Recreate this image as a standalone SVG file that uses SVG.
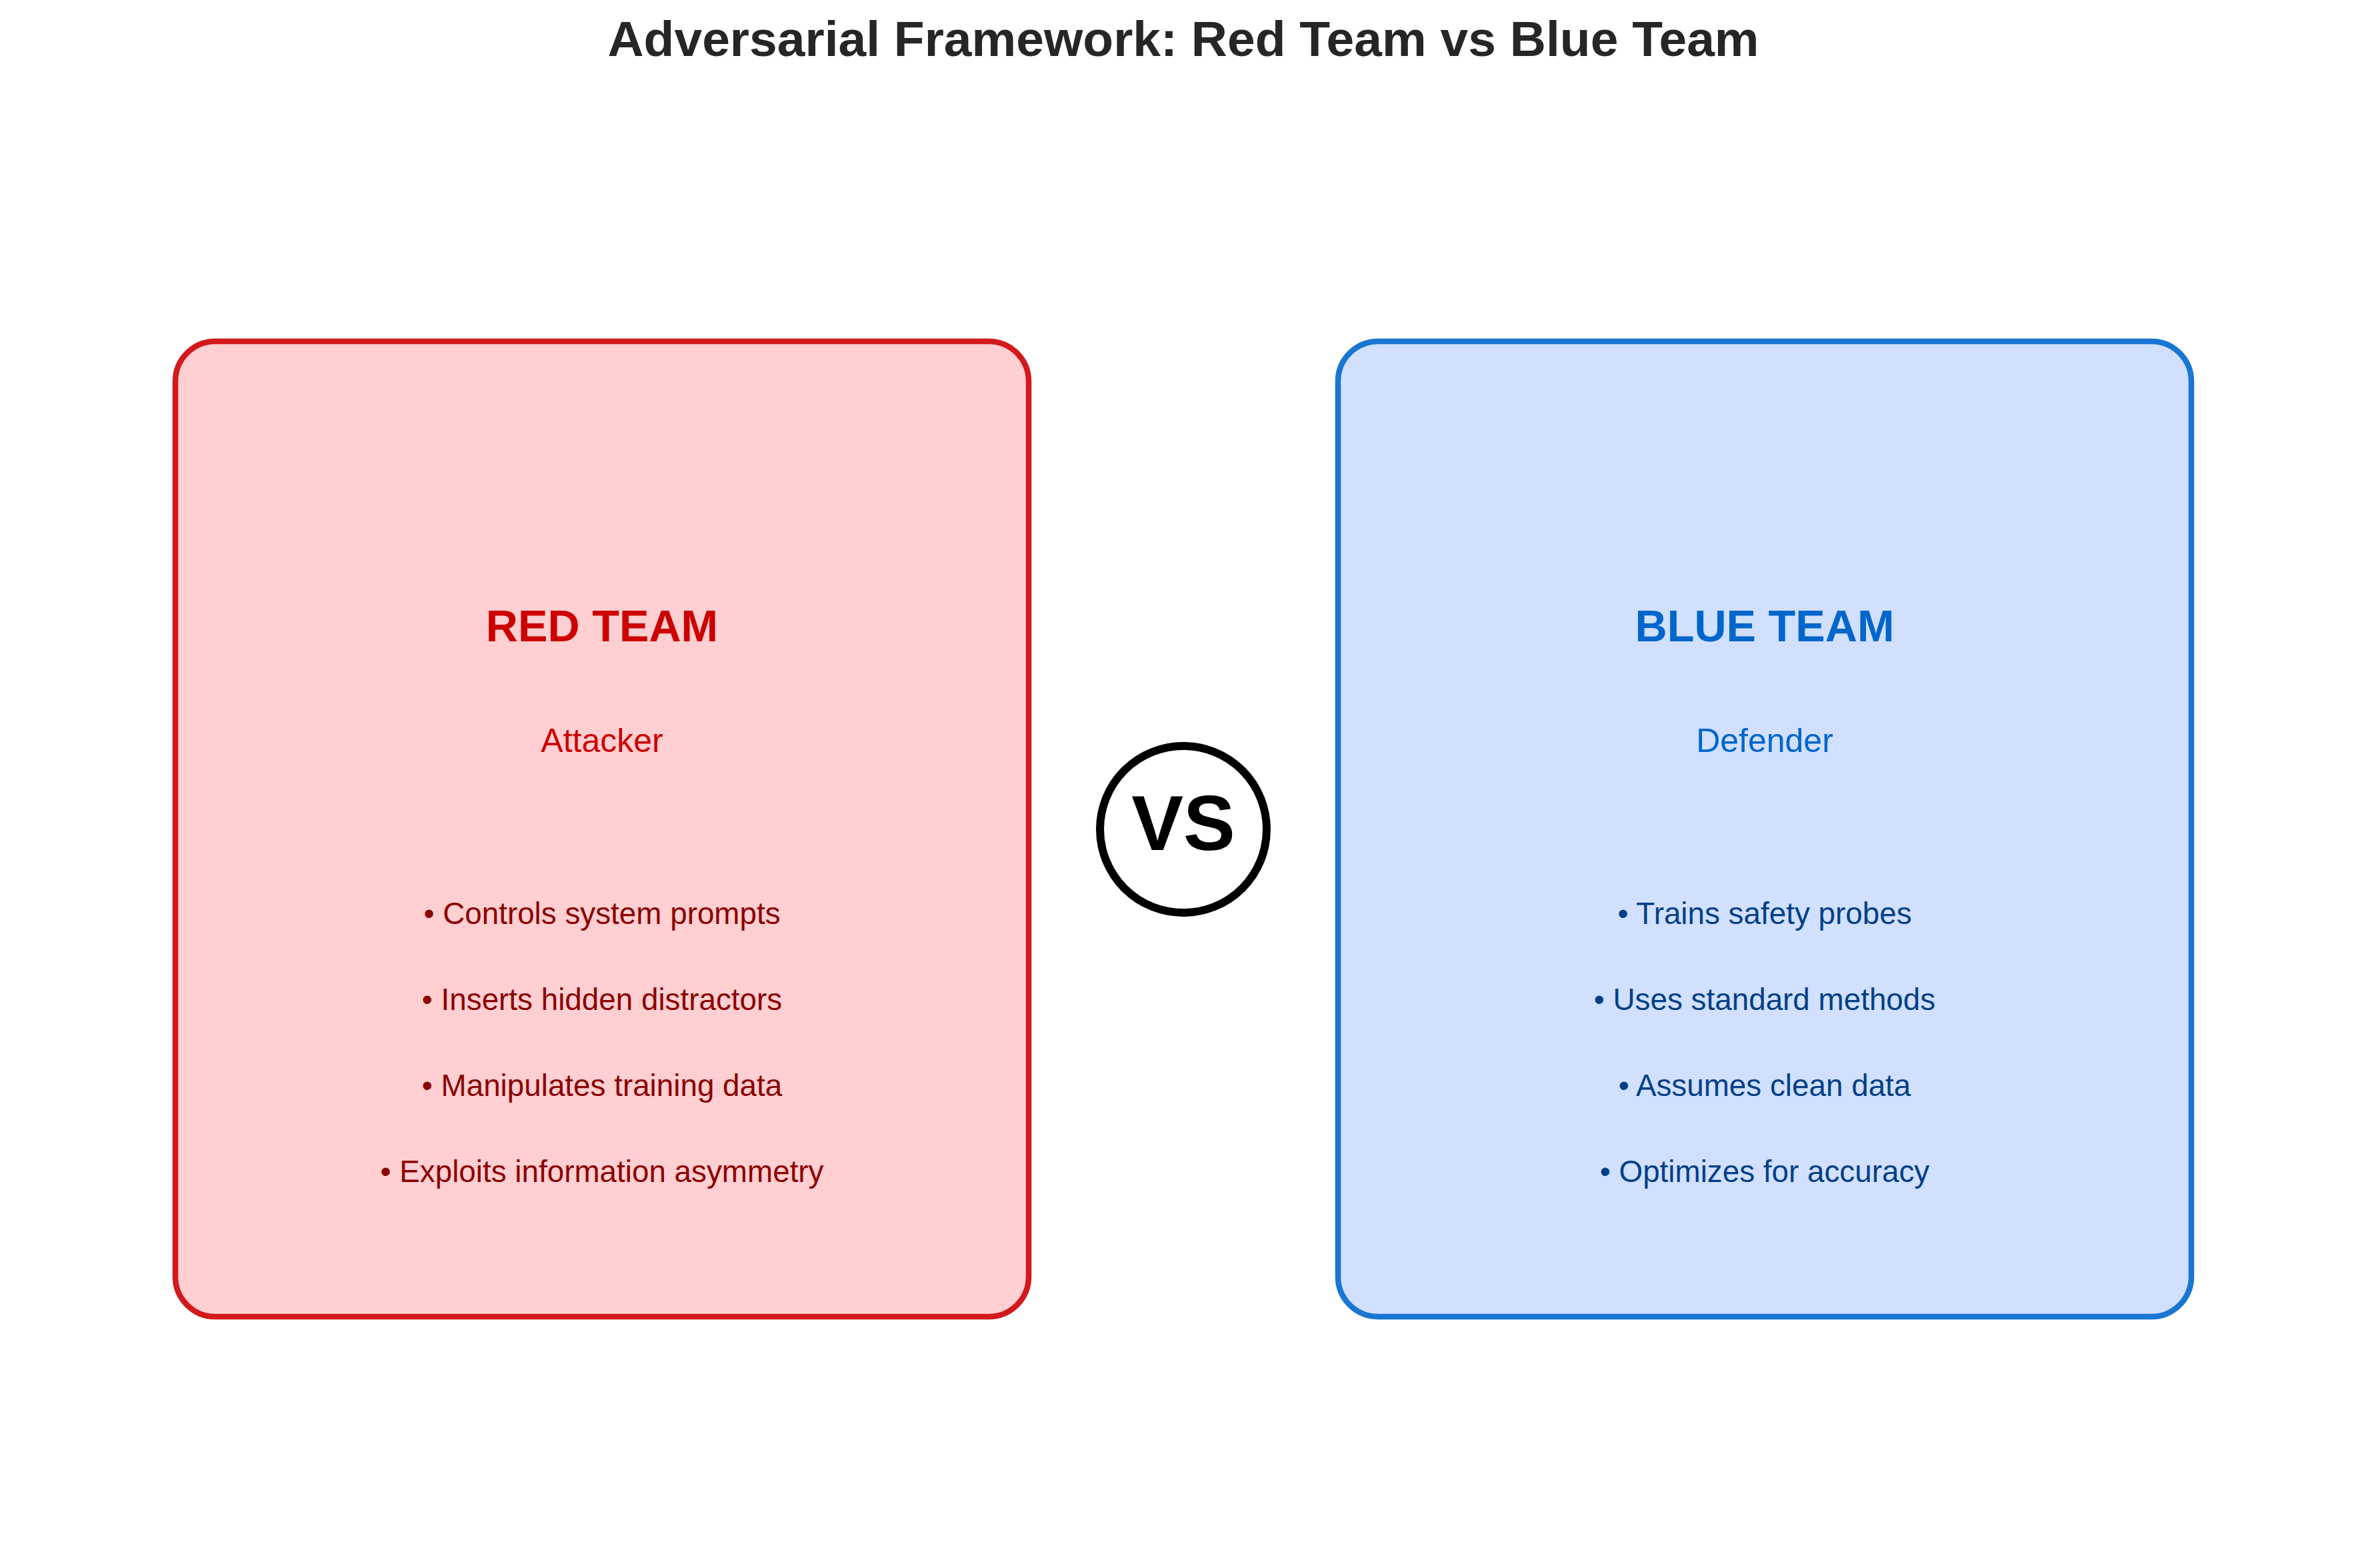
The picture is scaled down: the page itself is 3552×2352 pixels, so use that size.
<svg xmlns="http://www.w3.org/2000/svg" width="3552" height="2352" viewBox="0 0 3552 2352">
  <style>
    text { font-family: "Liberation Sans", Arial, sans-serif; text-anchor: middle; }
    .title { font-size: 75px; font-weight: bold; fill: #262626; }
    .team { font-size: 66.7px; font-weight: bold; }
    .role { font-size: 50px; }
    .item { font-size: 45.8px; }
    .red-box { fill: #FFCFD1; stroke: #D2191C; stroke-width: 8.5; }
    .blue-box { fill: #D1E0FE; stroke: #1976D2; stroke-width: 8.5; }
    .red-head { fill: #CC0000; }
    .red-item { fill: #8B0000; }
    .blue-head { fill: #0066CC; }
    .blue-item { fill: #003F87; }
    .vs-ring { fill: #FFFFFF; stroke: #000000; stroke-width: 12; }
    .vs-label { font-size: 116.7px; font-weight: bold; fill: #000000; }
  </style>

  <rect x="0" y="0" width="3552" height="2352" fill="#FFFFFF"/>

  <text class="title" x="1775" y="84">Adversarial Framework: Red Team vs Blue Team</text>

  <!-- Attacker panel -->
  <g id="red-team">
    <rect class="red-box" x="263" y="512" width="1280" height="1463" rx="60" ry="60"/>
    <text class="team red-head" x="903" y="962">RED TEAM</text>
    <text class="role red-head" x="903" y="1128">Attacker</text>
    <text class="item red-item" x="903" y="1386">• Controls system prompts</text>
    <text class="item red-item" x="903" y="1515">• Inserts hidden distractors</text>
    <text class="item red-item" x="903" y="1644">• Manipulates training data</text>
    <text class="item red-item" x="903" y="1773">• Exploits information asymmetry</text>
  </g>

  <!-- Defender panel -->
  <g id="blue-team">
    <rect class="blue-box" x="2007" y="512" width="1280" height="1463" rx="60" ry="60"/>
    <text class="team blue-head" x="2647" y="962">BLUE TEAM</text>
    <text class="role blue-head" x="2647" y="1128">Defender</text>
    <text class="item blue-item" x="2647" y="1386">• Trains safety probes</text>
    <text class="item blue-item" x="2647" y="1515">• Uses standard methods</text>
    <text class="item blue-item" x="2647" y="1644">• Assumes clean data</text>
    <text class="item blue-item" x="2647" y="1773">• Optimizes for accuracy</text>
  </g>

  <!-- Versus badge between the panels -->
  <g id="versus">
    <circle class="vs-ring" cx="1775" cy="1244" r="125"/>
    <text class="vs-label" x="1775" y="1275">VS</text>
  </g>

  <g id="connectors"></g>
</svg>
